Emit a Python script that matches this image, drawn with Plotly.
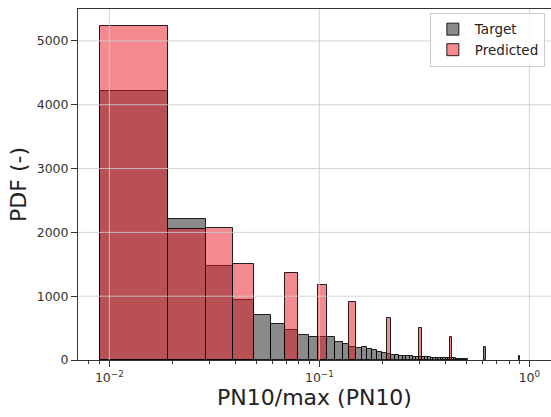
import plotly.graph_objects as go

# Histogram bins: fixed-width bins of PN10/max(PN10)
BIN_START = 0.009
BIN_WIDTH = 0.01

# Target PDF per bin (bin index -> density)
target_bins = list(range(0, 50)) + [60, 88]
target_pdf = [4215, 2210, 1473, 940, 703, 564, 465, 392, 365, 362,
              360, 277, 250, 209, 183, 199, 172, 157, 131, 104,
              89, 78, 72, 67, 63, 59, 56, 53, 50, 48,
              45, 43, 41, 39, 37, 35, 33, 31, 30, 28,
              27, 26, 25, 24, 23, 22, 21, 20, 19, 18,
              208, 70]

# Predicted PDF (only a few discrete bins are populated)
predicted_bins = [0, 1, 2, 3, 6, 9, 13, 20, 29, 41]
predicted_pdf = [5240, 2050, 2065, 1500, 1368, 1175, 904, 654, 506, 360]

# Axis ticks
y_ticks = [0, 1000, 2000, 3000, 4000, 5000]
x_ticks = [0.01, 0.1, 1.0]
x_tick_text = ["10<sup>\u22122</sup>", "10<sup>\u22121</sup>", "10<sup>0</sup>"]
series_names = ["Target", "Predicted"]

FONT = "DejaVu Sans"
AXIS_COLOR = "#333333"
GRID_COLOR = "rgba(205,205,205,0.85)"


def centers(bins):
    return [BIN_START + BIN_WIDTH * (b + 0.5) for b in bins]


fig = go.Figure()
fig.add_trace(go.Bar(
    x=centers(target_bins), y=target_pdf, width=[BIN_WIDTH] * len(target_bins),
    name=series_names[0],
    marker=dict(color="rgba(0,0,0,0.46)", line=dict(color="rgba(0,0,0,0.85)", width=1)),
))
fig.add_trace(go.Bar(
    x=centers(predicted_bins), y=predicted_pdf, width=[BIN_WIDTH] * len(predicted_bins),
    name=series_names[1],
    marker=dict(color="rgba(230,22,32,0.5)", line=dict(color="rgba(0,0,0,0.85)", width=1)),
))

# Grid drawn on top of the bars
shapes = []
for yv in y_ticks[1:]:
    shapes.append(dict(type="line", xref="x domain", yref="y", x0=0, x1=1, y0=yv, y1=yv,
                       line=dict(color=GRID_COLOR, width=1), layer="above"))
for xv in x_ticks:
    shapes.append(dict(type="line", xref="x", yref="y domain", x0=xv, x1=xv, y0=0, y1=1,
                       line=dict(color=GRID_COLOR, width=1), layer="above"))

minor_vals = [m * 10.0 ** e for e in (-3, -2, -1) for m in range(2, 10)]

fig.update_layout(
    width=551, height=417,
    margin=dict(l=78, r=0, t=9, b=57),
    paper_bgcolor="white", plot_bgcolor="white",
    barmode="overlay",
    bargap=0,
    shapes=shapes,
    font=dict(family=FONT, color="#333333", size=12),
    showlegend=True,
    legend=dict(
        x=0.987, y=0.989, xanchor="right", yanchor="top",
        bgcolor="rgba(255,255,255,0.85)", bordercolor="#cccccc", borderwidth=1,
        font=dict(family=FONT, size=13.5, color="#222222"),
        traceorder="normal",
        itemwidth=34,
    ),
    xaxis=dict(
        type="log", range=[-2.149, 0.103],
        tickmode="array", tickvals=x_ticks, ticktext=x_tick_text,
        ticks="outside", ticklen=6, tickcolor=AXIS_COLOR, tickwidth=1,
        minor=dict(tickmode="array", tickvals=minor_vals, ticks="outside",
                   ticklen=3, tickcolor=AXIS_COLOR, tickwidth=1, showgrid=False),
        showgrid=False, zeroline=False,
        showline=True, linecolor=AXIS_COLOR, linewidth=1, mirror=True,
        tickfont=dict(size=12.5, color="#333333"),
        title=dict(text="PN10/max (PN10)", font=dict(size=22, color="#222222"), standoff=4),
    ),
    yaxis=dict(
        range=[0, 5500],
        tickmode="array", tickvals=y_ticks,
        ticks="outside", ticklen=6, tickcolor=AXIS_COLOR, tickwidth=1,
        showgrid=False, zeroline=False,
        showline=True, linecolor=AXIS_COLOR, linewidth=1, mirror=False,
        tickfont=dict(size=12.5, color="#333333"),
        title=dict(text="PDF (-)", font=dict(size=22, color="#222222"), standoff=3),
    ),
)

fig.write_html("out.html")
